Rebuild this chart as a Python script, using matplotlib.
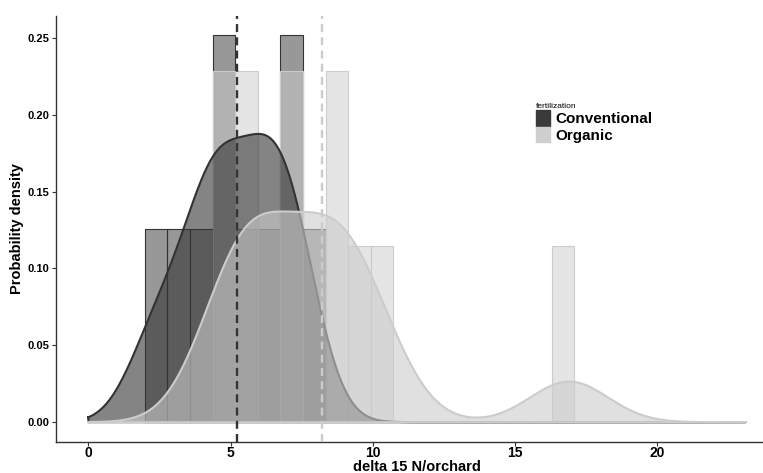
import numpy as np
import matplotlib
matplotlib.use("Agg")
import matplotlib.pyplot as plt
from matplotlib.patches import Patch

plt.rcParams['font.family'] = ['Liberation Sans', 'DejaVu Sans']

# delta 15 N per orchard
conventional = [2.2, 3.3, 4.3, 4.4, 4.8, 5.8, 6.0, 6.8, 6.9, 7.6]
organic = [4.9, 5.1, 5.7, 5.9, 7.2, 7.5, 8.6, 8.9, 9.3, 10.2, 16.9]
groups = ["Conventional", "Organic"]
fills = ["#333333", "#cccccc"]

bin_start = 1.98
binwidth = 0.795
dens_range = (0.0, 23.1)


def nrd0(x):
    x = np.asarray(x)
    sd = np.std(x, ddof=1)
    iqr = np.subtract(*np.percentile(x, [75, 25]))
    return 0.9 * min(sd, iqr / 1.34) * len(x) ** -0.2


def kde(x, grid):
    x = np.asarray(x)
    h = nrd0(x)
    z = (grid[:, None] - x[None, :]) / h
    return np.exp(-0.5 * z ** 2).sum(axis=1) / (len(x) * h * np.sqrt(2 * np.pi))


def rgba(c, a):
    return matplotlib.colors.to_rgba(c, a)


fig = plt.figure(figsize=(7.63, 4.73), dpi=100)
ax = fig.add_axes([55.5 / 763, 31.5 / 473, 722.8 / 763, 425.5 / 473])

bins = np.arange(bin_start, 17.6, binwidth)
grid = np.linspace(dens_range[0], dens_range[1], 512)

for i, (vals, col) in enumerate(zip([conventional, organic], fills)):
    ax.hist(vals, bins=bins, density=True, facecolor=rgba(col, 0.5),
            edgecolor=col, linewidth=0.8, zorder=1 + i)

for i, (vals, col) in enumerate(zip([conventional, organic], fills)):
    d = kde(vals, grid)
    ax.fill_between(grid, 0, d, facecolor=rgba(col, 0.6), edgecolor='none', zorder=3 + i)
    ox = np.concatenate([grid, grid[::-1], grid[:1]])
    oy = np.concatenate([d, np.zeros_like(d), d[:1]])
    ax.plot(ox, oy, color=col, lw=1.5, zorder=3 + i, solid_joinstyle='round')

for i, (vals, col) in enumerate(zip([conventional, organic], fills)):
    ax.axvline(np.mean(vals), color=col, lw=1.7, dashes=(3.4, 2.2), zorder=6)

ax.set_xlim(-1.155, 24.25)
ax.set_ylim(-0.01258, 0.2642)
ax.set_xticks([0, 5, 10, 15, 20])
ax.set_yticks([0, 0.05, 0.10, 0.15, 0.20, 0.25])
ax.set_yticklabels(["0.00", "0.05", "0.10", "0.15", "0.20", "0.25"])

for s in ["top", "right"]:
    ax.spines[s].set_visible(False)
for s in ["left", "bottom"]:
    ax.spines[s].set_color("#333333")
    ax.spines[s].set_linewidth(1.0)

ax.tick_params(axis='both', color="#333333", length=3, width=0.8)
ax.tick_params(axis='y', labelsize=8, pad=1.5)
ax.tick_params(axis='x', labelsize=10, pad=0.5)
for lab in ax.get_xticklabels() + ax.get_yticklabels():
    lab.set_fontweight('bold')
    lab.set_color('black')

ax.set_xlabel("delta 15 N/orchard", fontsize=10.5, fontweight='bold', labelpad=-0.5)
ax.set_ylabel("Probability density", fontsize=10.5, fontweight='bold', labelpad=2.5)

handles = [Patch(facecolor="#3a3a3a", edgecolor="#3a3a3a"),
           Patch(facecolor="#cfcfcf", edgecolor="#cfcfcf")]
leg = fig.legend(handles, groups, title="fertilization",
                 loc="upper left", bbox_to_anchor=(536 / 763, 1 - 103 / 473),
                 frameon=False, prop={'size': 11, 'weight': 'bold'},
                 title_fontsize=6, alignment='left', handlelength=0.9,
                 handleheight=1.2, handletextpad=0.4, labelspacing=0.02,
                 borderaxespad=0, borderpad=0)

fig.savefig("out.png", dpi=100)
